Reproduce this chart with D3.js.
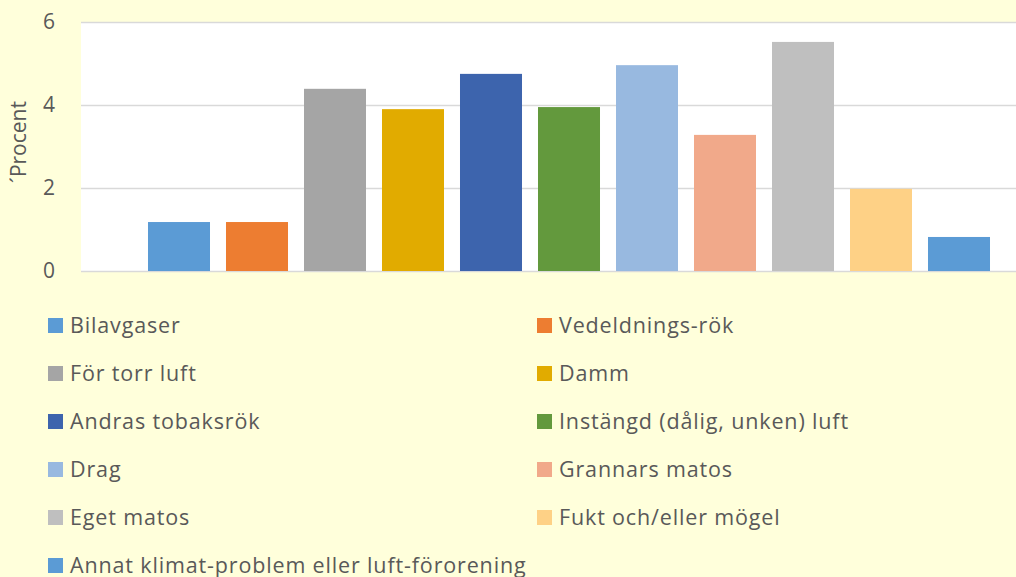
<!DOCTYPE html>
<html><head><meta charset="utf-8">
<script src="https://cdn.jsdelivr.net/npm/d3@7"></script>
<style>
html,body{margin:0;padding:0;background:#FFFFDB;}
svg{display:block;}
text{font-family:"Open Sans", "Noto Sans", sans-serif;fill:#595959;}
</style></head>
<body><svg id="c" width="1016" height="577"></svg>
<script>
const categories = ["Bilavgaser","Vedeldnings-rök","För torr luft","Damm","Andras tobaksrök","Instängd (dålig, unken) luft","Drag","Grannars matos","Eget matos","Fukt och/eller mögel","Annat klimat-problem eller luft-förorening"];
const values = [1.18,1.18,4.39,3.90,4.75,3.95,4.96,3.28,5.52,1.98,0.82];
const colors = ["#5B9BD5","#ED7D31","#A5A5A5","#E1AB00","#3D64AD","#63993D","#98B9E0","#F1A98A","#BFBFBF","#FED186","#5B9BD5"];
const yTicks = [0,2,4,6];
const yTitle = "´Procent";

const svg = d3.select("#c");
const W = 1016, H = 577;
svg.append("rect").attr("width",W).attr("height",H).attr("fill","#FFFFDB");

const plot = {left:81, right:1016, top:22, bottom:271};
const y = d3.scaleLinear().domain([0,6]).range([plot.bottom, plot.top]);
const x = d3.scaleBand().domain(categories).range([140,998]).paddingInner(0.205).paddingOuter(0.1025);

svg.append("rect").attr("x",plot.left).attr("y",plot.top).attr("width",plot.right-plot.left).attr("height",plot.bottom-plot.top).attr("fill","#ffffff");

const yAxis = d3.axisLeft(y).tickValues(yTicks).tickSize(-(plot.right-plot.left)).tickPadding(26).tickFormat(d3.format("d"));
const ga = svg.append("g").attr("transform",`translate(${plot.left},0)`).call(yAxis);
ga.select(".domain").remove();
ga.selectAll(".tick line").attr("stroke","#D9D9D9").attr("stroke-width",1.5);
ga.selectAll(".tick text").attr("font-size",21).attr("fill","#595959").style("font-family","'Open Sans', sans-serif");

svg.append("g").selectAll("rect").data(categories).join("rect")
  .attr("x",d=>x(d)).attr("width",x.bandwidth())
  .attr("y",(d,i)=>y(values[i])).attr("height",(d,i)=>y(0)-y(values[i]))
  .attr("fill",(d,i)=>colors[i]);

svg.append("text").attr("transform",`translate(26,142) rotate(-90)`).attr("text-anchor","middle")
  .attr("font-size",21).text(yTitle);

const lg = svg.append("g");
const items = lg.selectAll("g").data(categories).join("g")
  .attr("transform",(d,i)=>`translate(${i%2===0?48:537},${325+Math.floor(i/2)*48})`);
items.append("rect").attr("x",0).attr("y",-7).attr("width",15).attr("height",15).attr("fill",(d,i)=>colors[i]);
items.append("text").attr("x",22).attr("y",0).attr("dy","0.35em").attr("font-size",21.5)
  .style("letter-spacing","0.85px").text(d=>d);
</script></body></html>
